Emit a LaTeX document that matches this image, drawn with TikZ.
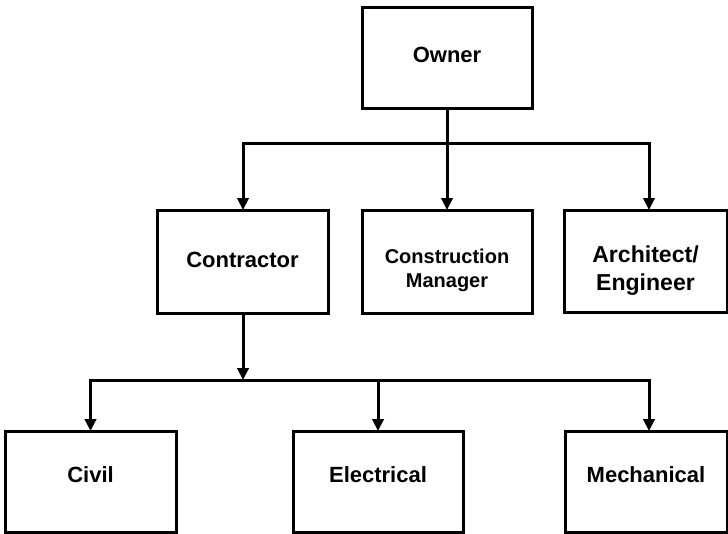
\documentclass[tikz,border=0pt]{standalone}
\usepackage{fontspec}
\setmainfont{Liberation Sans}
\usetikzlibrary{arrows.meta}

\tikzset{
  orgbox/.style={draw=black, line width=2.25pt, fill=white,
    inner sep=0pt, outer sep=0pt},
  txt/.style={align=center, inner sep=0pt, font=\bfseries\fontsize{16.5}{20.5}\selectfont},
  link/.style={draw=black, line width=2.25pt, line join=miter},
  tip/.style={-{Triangle[length=9pt,width=8.5pt]}},
  tips/.style={{Triangle[length=9pt,width=8.5pt]}-{Triangle[length=9pt,width=8.5pt]}}
}

\begin{document}
\begin{tikzpicture}[x=0.75pt, y=-0.75pt]
  \useasboundingbox (0,0) rectangle (728,533);

  % boxes, each with its caption set at the centre
  \node[orgbox, minimum width=127.5pt, minimum height=75.75pt,
        label={[txt, yshift=2.25pt]center:Owner}] (owner) at (447,57.5) {};
  \node[orgbox, minimum width=128.25pt, minimum height=77.25pt,
        label={[txt, yshift=1.5pt]center:Contractor}] (contractor) at (242.5,261.5) {};
  \node[orgbox, minimum width=127.5pt, minimum height=77.25pt,
        label={[txt, yshift=-7pt, font=\bfseries\fontsize{15}{18}\selectfont]center:Construction\\Manager}] (cm) at (447,261.5) {};
  \node[orgbox, minimum width=122.25pt, minimum height=76.5pt,
        label={[txt, yshift=-7.5pt, font=\bfseries\fontsize{17.3}{21}\selectfont]center:Architect/\\Engineer}] (arch) at (645.5,261) {};
  \node[orgbox, minimum width=128.25pt, minimum height=75.75pt,
        label={[txt, yshift=4.9pt]center:Civil}] (civil) at (90.5,481.5) {};
  \node[orgbox, minimum width=127.5pt, minimum height=75.75pt,
        label={[txt, yshift=4.9pt]center:Electrical}] (elec) at (378,481.5) {};
  \node[orgbox, minimum width=121.5pt, minimum height=75.75pt,
        label={[txt, yshift=4.9pt]center:Mechanical}] (mech) at (646,481.5) {};

  % bus lines
  \coordinate (topL) at (243,143);
  \coordinate (topR) at (649,143);
  \coordinate (midC) at (243,380);
  \coordinate (lowL) at (90.5,380);
  \coordinate (lowM) at (378,380);
  \coordinate (lowR) at (649,380);

  % owner level
  \draw[link, tip] (owner.south) -- (cm.north);
  \draw[link, tips] (topL |- contractor.north) -- (topL) -- (topR) -- (topR |- arch.north);

  % contractor level
  \draw[link, tip] (contractor.south -| midC) -- (midC);
  \draw[link, tips] (lowL |- civil.north) -- (lowL) -- (lowR) -- (lowR |- mech.north);
  \draw[link, tip] (lowM) -- (elec.north);
\end{tikzpicture}
\end{document}
